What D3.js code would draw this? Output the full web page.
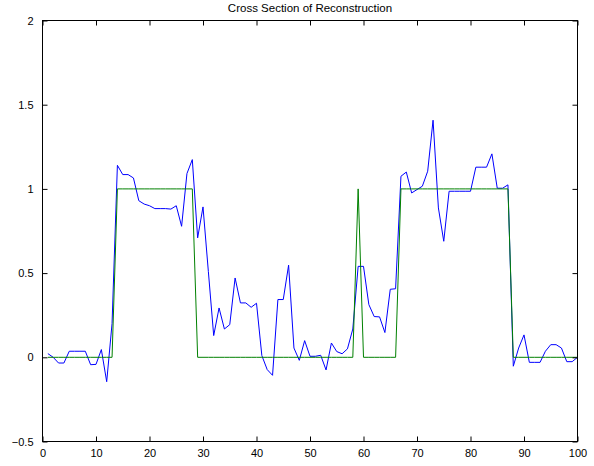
<!DOCTYPE html>
<html>
<head>
<meta charset="utf-8">
<script src="https://cdn.jsdelivr.net/npm/d3@7"></script>
<style>
  html, body { margin: 0; padding: 0; background: #fff; }
  svg { display: block; font-family: "Liberation Sans", Arial, Helvetica, sans-serif; }
</style>
</head>
<body>
<script>
// Sample positions along the cross section
const positions = d3.range(1, 101);

// Reconstructed profile
const reconstruction = [
  0.022, 0.0, -0.034, -0.034, 0.036, 0.036, 0.036, 0.036, -0.044, -0.042,
  0.046, -0.145, 0.2, 1.14, 1.085, 1.085, 1.065, 0.93, 0.91, 0.90,
  0.883, 0.883, 0.883, 0.88, 0.90, 0.778, 1.091, 1.174, 0.709, 0.893,
  0.51, 0.129, 0.293, 0.168, 0.194, 0.471, 0.323, 0.323, 0.297, 0.321,
  0.01, -0.073, -0.107, 0.343, 0.343, 0.547, 0.055, -0.018, 0.099, 0.006,
  0.006, 0.012, -0.075, 0.085, 0.034, 0.021, 0.05, 0.168, 0.54, 0.54,
  0.313, 0.242, 0.24, 0.147, 0.404, 0.407, 1.075, 1.10, 0.976, 0.996,
  1.016, 1.105, 1.408, 0.887, 0.689, 0.986, 0.986, 0.986, 0.986, 0.986,
  1.129, 1.129, 1.129, 1.208, 1.004, 1.004, 1.024, -0.053, 0.055, 0.133,
  -0.03, -0.03, -0.03, 0.036, 0.075, 0.075, 0.055, -0.026, -0.026, 0.0
];

// True (phantom) profile
const truth = [
  0, 0, 0, 0, 0, 0, 0, 0, 0, 0,
  0, 0, 0, 1, 1, 1, 1, 1, 1, 1,
  1, 1, 1, 1, 1, 1, 1, 1, 0, 0,
  0, 0, 0, 0, 0, 0, 0, 0, 0, 0,
  0, 0, 0, 0, 0, 0, 0, 0, 0, 0,
  0, 0, 0, 0, 0, 0, 0, 0, 1, 0,
  0, 0, 0, 0, 0, 0, 1, 1, 1, 1,
  1, 1, 1, 1, 1, 1, 1, 1, 1, 1,
  1, 1, 1, 1, 1, 1, 1, 0, 0, 0,
  0, 0, 0, 0, 0, 0, 0, 0, 0, 0
];

const xTicks = [0, 10, 20, 30, 40, 50, 60, 70, 80, 90, 100];
const yTicks = [-0.5, 0, 0.5, 1, 1.5, 2];
const yTickLabels = ["\u22120.5", "0", "0.5", "1", "1.5", "2"];
const title = "Cross Section of Reconstruction";

const W = 594, H = 466;
// half-pixel offsets keep the 1px frame and ticks crisp
const margin = { left: 42.5, right: 16.5, top: 20.5, bottom: 24.5 };
const iw = W - margin.left - margin.right;
const ih = H - margin.top - margin.bottom;

const svg = d3.select("body").append("svg")
  .attr("width", W).attr("height", H);

const g = svg.append("g").attr("transform", `translate(${margin.left},${margin.top})`);

const x = d3.scaleLinear().domain([0, 100]).range([0, iw]);
const y = d3.scaleLinear().domain([-0.5, 2]).range([ih, 0]);

const line = d3.line().x((d, i) => x(positions[i])).y(d => y(d));

// data lines: reconstruction first, true profile on top
g.append("path").datum(reconstruction)
  .attr("d", line).attr("fill", "none")
  .attr("stroke", "#0000ff").attr("stroke-width", 1);
g.append("path").datum(truth)
  .attr("d", line).attr("fill", "none")
  .attr("stroke", "#008000").attr("stroke-width", 1);

// axes with inward ticks on all four sides
const tickLen = 5;
const styleAxis = sel => {
  sel.select(".domain").remove();
  sel.selectAll(".tick line").attr("stroke", "#000").attr("stroke-width", 1);
  sel.selectAll("text").attr("fill", "#000").attr("font-size", 11);
};

g.append("g").attr("transform", `translate(0,${ih})`)
  .call(d3.axisBottom(x).tickValues(xTicks).tickSizeInner(-tickLen).tickSizeOuter(0).tickPadding(8))
  .call(styleAxis);
g.append("g")
  .call(d3.axisTop(x).tickValues(xTicks).tickSizeInner(-tickLen).tickSizeOuter(0).tickFormat(""))
  .call(styleAxis);
g.append("g")
  .call(d3.axisLeft(y).tickValues(yTicks).tickSizeInner(-tickLen).tickSizeOuter(0).tickPadding(9)
    .tickFormat((d, i) => yTickLabels[i]))
  .call(styleAxis);
g.append("g").attr("transform", `translate(${iw},0)`)
  .call(d3.axisRight(y).tickValues(yTicks).tickSizeInner(-tickLen).tickSizeOuter(0).tickFormat(""))
  .call(styleAxis);

// frame
g.append("rect").attr("x", 0).attr("y", 0).attr("width", iw).attr("height", ih)
  .attr("fill", "none").attr("stroke", "#000").attr("stroke-width", 1);

// title
svg.append("text")
  .attr("x", margin.left + iw / 2).attr("y", 12)
  .attr("text-anchor", "middle").attr("font-size", 11.5).attr("fill", "#000")
  .text(title);
</script>
</body>
</html>
